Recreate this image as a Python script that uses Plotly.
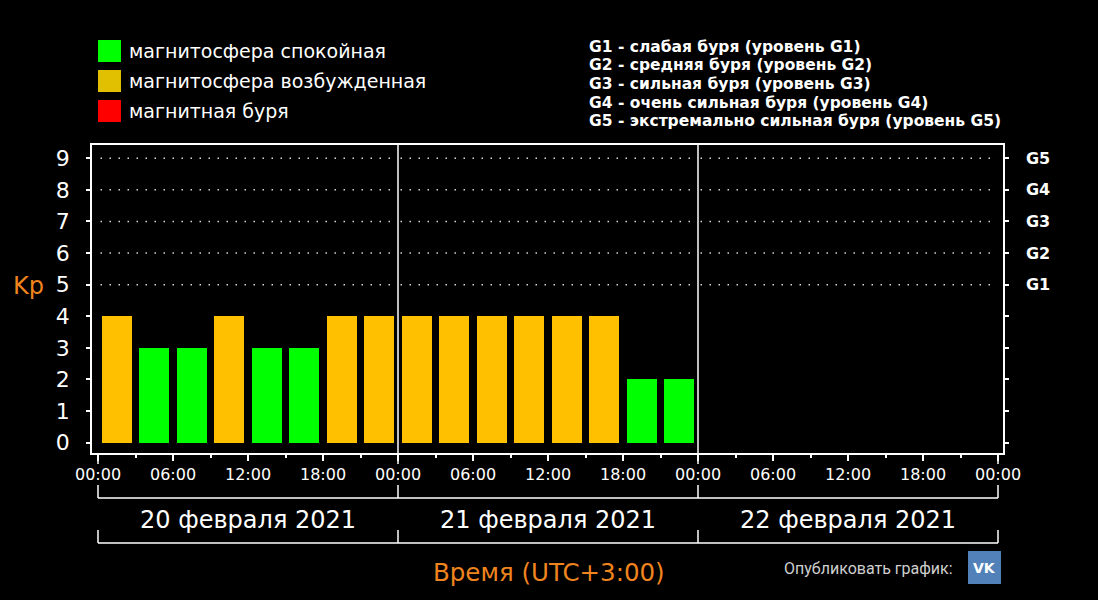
import plotly.graph_objects as go

# Kp index, 3-hour intervals starting 20.02.2021 00:00 (UTC+3)
KP = [4, 3, 3, 4, 3, 3, 4, 4,
      4, 4, 4, 4, 4, 4, 2, 2]
DAYS = ["20 февраля 2021", "21 февраля 2021", "22 февраля 2021"]
HOUR_LABELS = ["00:00", "06:00", "12:00", "18:00"] * 3 + ["00:00"]
G_LEVELS = [5, 6, 7, 8, 9]
G_NAMES = ["G1", "G2", "G3", "G4", "G5"]
G_TEXT = [
    "G1 - слабая буря (уровень G1)",
    "G2 - средняя буря (уровень G2)",
    "G3 - сильная буря (уровень G3)",
    "G4 - очень сильная буря (уровень G4)",
    "G5 - экстремально сильная буря (уровень G5)",
]
LEGEND_LABELS = ["магнитосфера спокойная", "магнитосфера возбужденная", "магнитная буря"]
LEGEND_COLORS = ["#00ff00", "#e0c000", "#ff0000"]

GREEN, YELLOW, RED = "#00ff00", "#ffc000", "#ff0000"
ORANGE = "#f0841e"
FONT = "DejaVu Sans"

W, H = 1098, 600
L, R, T, B = 92, 95, 145, 147
PW, PH = W - L - R, H - T - B


def px_x(px):
    return (px - L) / PW


def px_y(py):
    return (H - B - py) / PH


def kp_color(v):
    if v < 4:
        return GREEN
    if v < 5:
        return YELLOW
    return RED


hours = [3 * i + 1.5 for i in range(len(KP))]
n_hours = 24 * len(DAYS)

fig = go.Figure()
fig.add_trace(go.Bar(x=hours, y=KP, width=2.4,
                     marker=dict(color=[kp_color(v) for v in KP], line=dict(width=0)),
                     hoverinfo="x+y"))
# invisible trace so the right axis is drawn
fig.add_trace(go.Scatter(x=[0], y=[0], yaxis="y2", mode="markers",
                         marker=dict(opacity=0), hoverinfo="skip"))

shapes = []
# dotted storm-level grid lines, one segment per day
for lv in G_LEVELS:
    for d in range(len(DAYS)):
        shapes.append(dict(type="line", xref="x", yref="y",
                           x0=24 * d + 0.2, x1=24 * d + 23.8, y0=lv, y1=lv,
                           line=dict(color="#d8d8d8", width=1.5, dash="1.5px,7.5px")))
# day separators
for d in range(1, len(DAYS)):
    shapes.append(dict(type="line", xref="x", yref="paper", x0=24 * d, x1=24 * d,
                       y0=0, y1=1, line=dict(color="white", width=1.5)))
# day brackets under the axis
for d in range(len(DAYS) + 1):
    xd = 24 * d
    shapes.append(dict(type="line", xref="x", yref="paper", x0=xd, x1=xd,
                       y0=px_y(453), y1=px_y(464), line=dict(color="white", width=1.5)))
    shapes.append(dict(type="line", xref="x", yref="paper", x0=xd, x1=xd,
                       y0=px_y(485), y1=px_y(498), line=dict(color="white", width=1.5)))
    shapes.append(dict(type="line", xref="x", yref="paper", x0=xd, x1=xd,
                       y0=px_y(530), y1=px_y(543), line=dict(color="white", width=1.5)))
for py in (498, 543):
    shapes.append(dict(type="line", xref="x", yref="paper", x0=0, x1=n_hours,
                       y0=px_y(py), y1=px_y(py), line=dict(color="white", width=1.5)))

# legend squares
for i, c in enumerate(LEGEND_COLORS):
    top = 40 + 30 * i
    shapes.append(dict(type="rect", xref="paper", yref="paper",
                       x0=px_x(98), x1=px_x(121), y0=px_y(top), y1=px_y(top + 22),
                       fillcolor=c, line=dict(width=0)))
# VK button
shapes.append(dict(type="rect", xref="paper", yref="paper",
                   x0=px_x(968), x1=px_x(1001), y0=px_y(551), y1=px_y(584),
                   fillcolor="#5181b8", line=dict(width=0)))

ann = []
for i, lab in enumerate(LEGEND_LABELS):
    ann.append(dict(text=lab, xref="paper", yref="paper", x=px_x(127), y=px_y(51 + 30 * i),
                    xanchor="left", yanchor="middle", showarrow=False,
                    font=dict(family=FONT, size=19, color="white")))
for i, t in enumerate(G_TEXT):
    ann.append(dict(text=t, xref="paper", yref="paper", x=px_x(587), y=px_y(47 + 18.5 * i),
                    xanchor="left", yanchor="middle", showarrow=False,
                    font=dict(family=FONT, size=15.5, color="white", weight="bold")))
for d, lab in enumerate(DAYS):
    ann.append(dict(text=lab, xref="x", yref="paper", x=24 * d + 12, y=px_y(520),
                    xanchor="center", yanchor="middle", showarrow=False,
                    font=dict(family=FONT, size=24, color="white")))
ann.append(dict(text="Kp", xref="paper", yref="paper", x=px_x(28), y=px_y(286),
                xanchor="center", yanchor="middle", showarrow=False,
                font=dict(family=FONT, size=24, color=ORANGE)))
ann.append(dict(text="Время (UTC+3:00)", xref="paper", yref="paper", x=px_x(549), y=px_y(572),
                xanchor="center", yanchor="middle", showarrow=False,
                font=dict(family=FONT, size=24.5, color=ORANGE)))
ann.append(dict(text="Опубликовать график:", xref="paper", yref="paper", x=px_x(955), y=px_y(568),
                xanchor="right", yanchor="middle", showarrow=False,
                font=dict(family="Roboto", size=16, color="#cfcfcf")))
ann.append(dict(text="<b>VK</b>", xref="paper", yref="paper", x=px_x(984.5), y=px_y(567.5),
                xanchor="center", yanchor="middle", showarrow=False,
                font=dict(family=FONT, size=14, color="white")))

axis_line = dict(showline=True, linecolor="white", linewidth=1.5, showgrid=False, zeroline=False)
fig.update_layout(
    width=W, height=H,
    margin=dict(l=L, r=R, t=T, b=B),
    paper_bgcolor="black", plot_bgcolor="black",
    showlegend=False, bargap=0,
    xaxis=dict(range=[-0.48, n_hours + 0.4], tickvals=list(range(0, n_hours + 1, 6)),
               ticktext=HOUR_LABELS, ticks="outside", ticklen=6, tickwidth=1.5,
               tickcolor="white", mirror=True,
               minor=dict(dtick=3, tick0=0, ticks="outside", ticklen=3, tickwidth=1.5,
                          tickcolor="white"),
               tickfont=dict(family=FONT, size=16, color="white"), **axis_line),
    yaxis=dict(range=[-0.33, 9.42], tickvals=list(range(10)), ticks="outside", ticklen=4,
               tickwidth=1.5, tickcolor="white", mirror=True, ticklabelstandoff=12,
               tickfont=dict(family=FONT, size=22, color="white"), **axis_line),
    yaxis2=dict(range=[-0.33, 9.42], overlaying="y", side="right", tickvals=list(range(10)),
                ticktext=[""] * (10 - len(G_NAMES)) + G_NAMES, ticks="outside", ticklen=4,
                tickwidth=1.5, tickcolor="white", ticklabelstandoff=14,
                tickfont=dict(family=FONT, size=16, color="white", weight="bold"), **axis_line),
    shapes=shapes, annotations=ann,
)

# page without the default body margin, so the chart fills the window
fig.write_html("out.html", config={"displayModeBar": False},
               post_script="document.body.style.margin='0';document.body.style.background='black';")
